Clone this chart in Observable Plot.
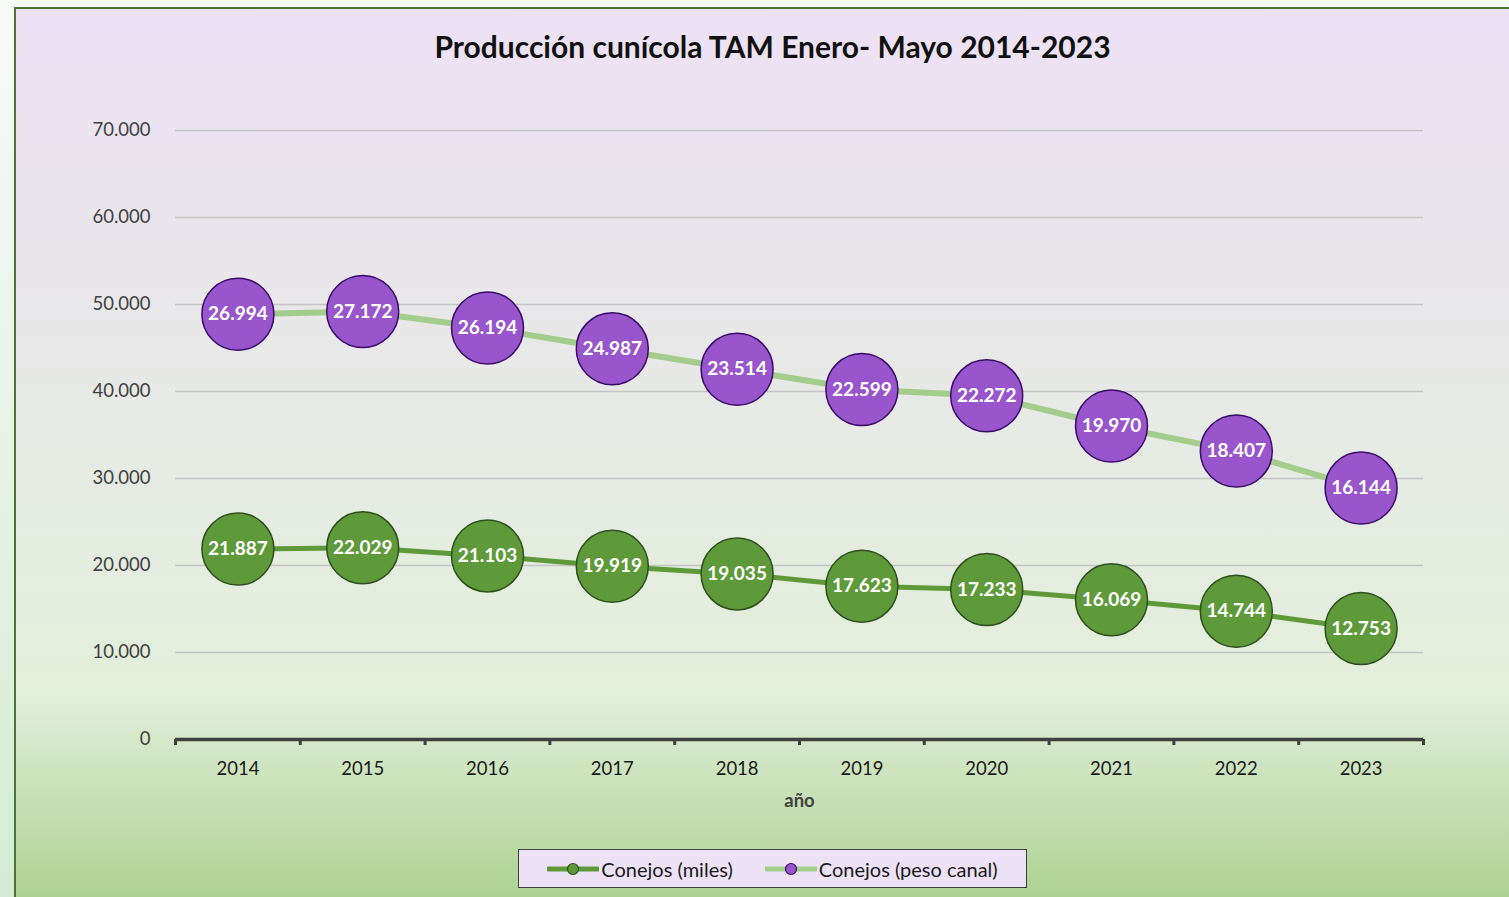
<!DOCTYPE html>
<html>
<head>
<meta charset="utf-8">
<script src="https://cdn.jsdelivr.net/npm/d3@7"></script>
<script src="https://cdn.jsdelivr.net/npm/@observablehq/plot@0.6"></script>
<style>
  html, body { margin: 0; padding: 0; }
  body { width: 1509px; height: 897px; overflow: hidden; position: relative;
         background: linear-gradient(to bottom, #f7fbf7, #d3ecd4); font-family: Lato, "Open Sans", sans-serif; }
  #frame { position: absolute; left: 14px; top: 7px; width: 1520px; height: 900px;
           border-left: 2px solid #4f7336; border-top: 2px solid #4f7336;
           background: linear-gradient(to bottom, #ede1f5 0%, #e2efda 76%, #a9d18e 100%); }
  #title { position: absolute; left: 0; width: 1545px; top: 26px; text-align: center;
           font-size: 30px; font-weight: bold; color: #111; line-height: 40px; }
  #chart { position: absolute; left: 0; top: 90px; }
  #legend { position: absolute; left: 518px; top: 849px; width: 507px; height: 37px;
            background: #ede2f5; border: 1.5px solid #404040; display: flex; align-items: center;
            justify-content: center; gap: 32px; font-size: 20px; color: #1a1a1a; }
  .item { display: flex; align-items: center; }
  .item svg { margin-right: 2px; }
</style>
</head>
<body>
<div id="frame"></div>
<div id="title">Producción cunícola TAM Enero- Mayo 2014-2023</div>
<div id="chart"></div>
<div id="legend">
  <div class="item"><svg width="52" height="14"><line x1="1" y1="7" x2="51" y2="7" stroke="#5e9a3a" stroke-width="5" stroke-linecap="round"/><circle cx="26" cy="7" r="5.5" fill="#5e9a3a" stroke="#2d4f1c" stroke-width="1.2"/></svg>Conejos (miles)</div>
  <div class="item"><svg width="52" height="14"><line x1="1" y1="7" x2="51" y2="7" stroke="#a3cd8b" stroke-width="5" stroke-linecap="round"/><circle cx="26" cy="7" r="5.5" fill="#9955cc" stroke="#3a0a6a" stroke-width="1.2"/></svg>Conejos (peso canal)</div>
</div>
<script>
const years = [2014, 2015, 2016, 2017, 2018, 2019, 2020, 2021, 2022, 2023];
const conejosMiles = [21887, 22029, 21103, 19919, 19035, 17623, 17233, 16069, 14744, 12753];
const conejosPesoCanal = [26994, 27172, 26194, 24987, 23514, 22599, 22272, 19970, 18407, 16144];
const yTicks = [0, 10000, 20000, 30000, 40000, 50000, 60000, 70000];

const locale = d3.formatLocale({decimal: ",", thousands: ".", grouping: [3], currency: ["", " €"]});
const fmt = locale.format(",d");

const rowsMiles = years.map((year, i) => ({year, value: conejosMiles[i], pos: conejosMiles[i]}));
const rowsPeso = years.map((year, i) => ({year, value: conejosPesoCanal[i], pos: conejosMiles[i] + conejosPesoCanal[i]}));
const boundaries = years.map(y => y - 0.5).concat([years[years.length - 1] + 0.5]);

const plot = Plot.plot({
  width: 1509,
  height: 730,
  marginTop: 40,
  marginBottom: 81,
  marginLeft: 175,
  marginRight: 86,
  style: {background: "transparent", fontFamily: "Lato, 'Open Sans', sans-serif", overflow: "visible"},
  x: {type: "linear", domain: [years[0] - 0.5, years[years.length - 1] + 0.5]},
  y: {domain: [0, 70000]},
  marks: [
    Plot.gridY(yTicks.filter(d => d > 0), {stroke: "#c4c4c4", strokeOpacity: 1, strokeWidth: 1.3}),
    Plot.axisY({ticks: yTicks, tickSize: 0, tickPadding: 25, tickFormat: fmt, fontSize: 18.5, color: "#404040", label: null}),
    Plot.axisX({ticks: years, tickSize: 0, tickPadding: 22, tickFormat: d => String(d), fontSize: 18.5, color: "#1a1a1a", label: null}),
    Plot.axisX({ticks: boundaries, tickSize: 6, tickFormat: () => "", stroke: "#404040", strokeWidth: 3, label: null}),
    Plot.ruleY([0], {stroke: "#404040", strokeWidth: 3.5}),
    Plot.text(["año"], {frameAnchor: "bottom", dy: 67, fontSize: 18.5, fontWeight: "bold", fill: "#404040"}),
    Plot.line(rowsMiles, {x: "year", y: "pos", stroke: "#5e9a3a", strokeWidth: 5}),
    Plot.dot(rowsMiles, {x: "year", y: "pos", r: 36, fill: "#5e9a3a", stroke: "#2d4f1c", strokeWidth: 1.5}),
    Plot.text(rowsMiles, {x: "year", y: "pos", text: d => fmt(d.value), fill: "white", fontSize: 19, fontWeight: "bold"}),
    Plot.line(rowsPeso, {x: "year", y: "pos", stroke: "#a3cd8b", strokeWidth: 6}),
    Plot.dot(rowsPeso, {x: "year", y: "pos", r: 36, fill: "#9955cc", stroke: "#3a0a6a", strokeWidth: 1.5}),
    Plot.text(rowsPeso, {x: "year", y: "pos", text: d => fmt(d.value), fill: "white", fontSize: 19, fontWeight: "bold"})
  ]
});
document.getElementById("chart").appendChild(plot);
</script>
</body>
</html>
